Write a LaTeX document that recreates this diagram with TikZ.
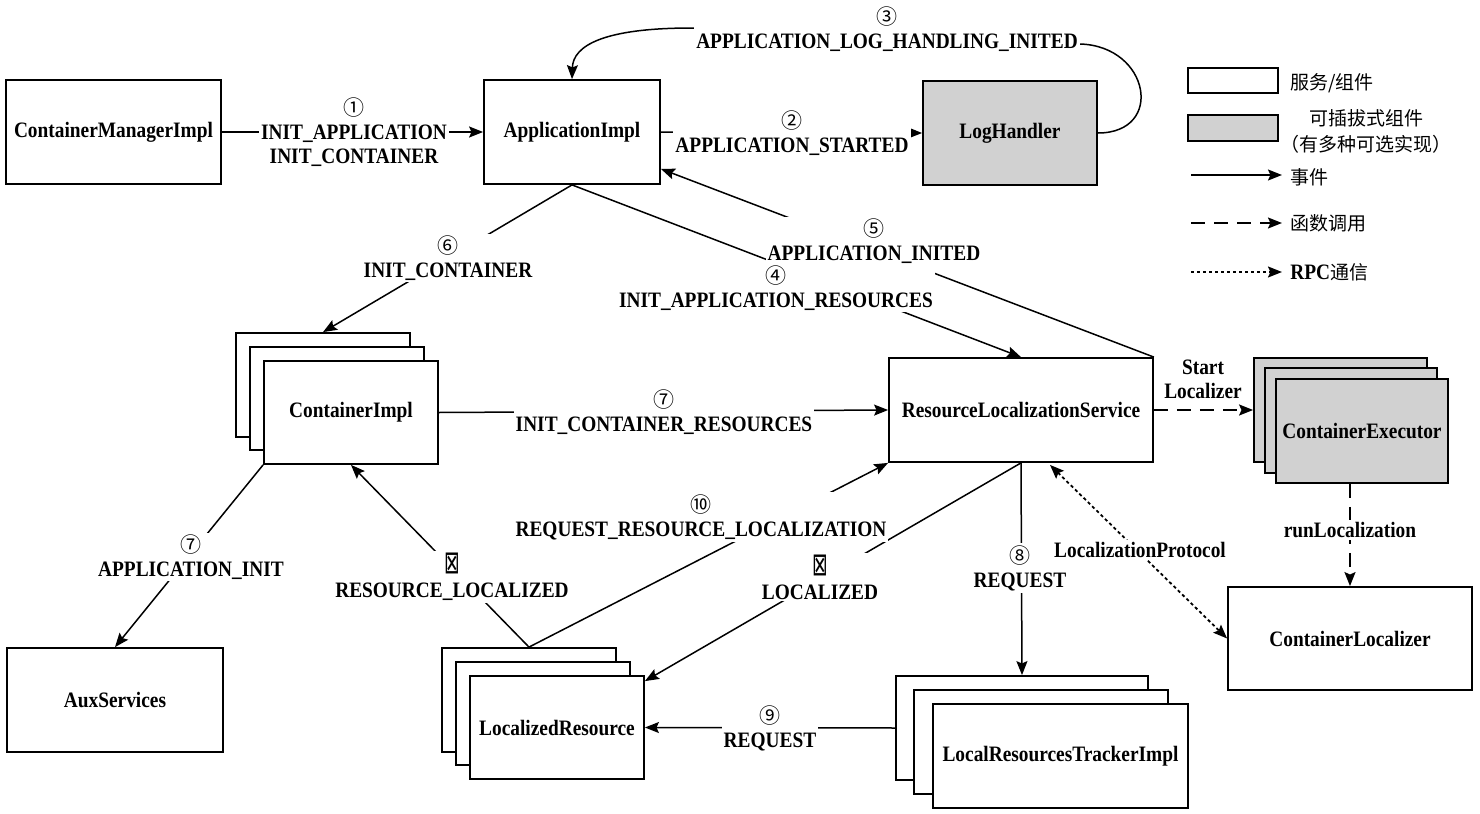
\documentclass[tikz,border=0pt]{standalone}
\usepackage{fontspec}
\usepackage{graphicx}
\setmainfont{Liberation Serif}[FakeStretch=0.88]
\newfontfamily\cjk{Noto Sans CJK SC}
\newfontfamily\dejavu{DejaVu Sans}
\usetikzlibrary{arrows.meta,calc}
\newcommand\lblfont{\fontsize{11}{12}\selectfont\bfseries}
\newcommand\cnum[1]{{\cjk\mdseries\fontsize{10.5}{12}\selectfont #1}}
\newcommand\xbox{{\dejavu\mdseries\scalebox{0.85}[1.45]{⊠}}}
\newcommand\zh[1]{{\cjk\mdseries\fontsize{9.5}{12}\selectfont #1}}
\tikzset{
  >={Stealth[length=7pt,width=5.5pt,inset=1.2pt]},
  box/.style={draw, line width=0.9pt, fill=white, inner sep=0pt, font=\lblfont},
  gbox/.style={box, fill=black!18},
  sz/.style 2 args={minimum width=#1pt, minimum height=#2pt},
  lab/.style={fill=white, inner sep=1pt, align=center, font=\lblfont},
  ev/.style={line width=0.75pt, ->},
  fn/.style={line width=0.9pt, ->, dash pattern=on 7pt off 4.5pt},
  rpc/.style={line width=0.9pt, dash pattern=on 1.6pt off 1.4pt},
}
\begin{document}
\begin{tikzpicture}[x=0.5pt,y=-0.5pt]
\useasboundingbox (0,0) rectangle (1480,814);
% boxes
\node[box, sz={107.5}{52}] (cmi) at (113.5,132) {ContainerManagerImpl};
\node[box, sz={88}{52}] (ai) at (572,132) {ApplicationImpl};
\node[gbox, sz={87}{52}] (lh) at (1010,133) {LogHandler};
\node[box, sz={87}{52}] (ci1) at (323,385) {};
\node[box, sz={87}{51.5}] (ci2) at (337,398.5) {};
\node[box, sz={87}{51.5}] (ci3) at (351,412.5) {ContainerImpl};
\node[box, sz={132}{52}] (rls) at (1021,410) {ResourceLocalizationService};
\node[gbox, sz={86.5}{52}] (ce1) at (1340.5,410) {};
\node[gbox, sz={86}{52.5}] (ce2) at (1351,420.5) {};
\node[gbox, sz={86}{52}] (ce3) at (1362,431) {ContainerExecutor};
\node[box, sz={122}{51.5}] (cl) at (1350,638.5) {ContainerLocalizer};
\node[box, sz={108}{52}] (aux) at (115,700) {AuxServices};
\node[box, sz={87}{52}] (lr1) at (529,700) {};
\node[box, sz={87}{51.5}] (lr2) at (543,713.5) {};
\node[box, sz={87}{51.5}] (lr3) at (557,727.5) {LocalizedResource};
\node[box, sz={126}{52}] (lrt1) at (1022,728) {};
\node[box, sz={127}{52}] (lrt2) at (1041,742) {};
\node[box, sz={127.5}{52}] (lrt3) at (1060.5,756) {LocalResourcesTrackerImpl};

% connectors
\draw[ev] (cmi.east) -- (ai.west);
\draw[ev] (ai.east) -- (lh.west);
\draw[ev] (lh.east) .. controls (1165,133) and (1150,46) .. (1080,44) -- (692,28) .. controls (605,28) and (573,45) .. (ai.north);
\draw[ev] (rls.north east) -- ($(ai.south east)+(0,-16)$);
\draw[ev] (ai.south) -- (rls.north);
\draw[ev] (ai.south) -- (ci1.north);
\draw[ev] (ci3.east) -- (rls.west);
\draw[ev] (ci3.south west) -- (aux.north);
\draw[ev] (lr1.north) -- (ci3.south);
\draw[ev] (lr1.north) -- (rls.south west);
\draw[ev] (rls.south) -- ($(lr3.north east)+(0,6)$);
\draw[ev] (rls.south) -- (lrt1.north);
\draw[ev] (lrt1.west) -- (lr3.east);
\draw[fn] (rls.east) -- (ce1.west);
\draw[fn] (cl.north |- ce3.south) -- (cl.north);
\draw[rpc, <->] ($(rls.south)+(29,2)$) -- (cl.west);

% labels
\node[lab] (l1) at (354,132) {\cnum{①}\\INIT\_APPLICATION\\INIT\_CONTAINER};
\node[lab] (l2) at (792,133) {\cnum{②}\\APPLICATION\_STARTED};
\node[lab] (l3) at (887,29) {\cnum{③}\\APPLICATION\_LOG\_HANDLING\_INITED};
\node[lab] (l4) at (776,288) {\cnum{④}\\INIT\_APPLICATION\_RESOURCES};
\node[lab] (l5) at (874,241) {\cnum{⑤}\\APPLICATION\_INITED};
\node[lab] (l6) at (448,258) {\cnum{⑥}\\INIT\_CONTAINER};
\node[lab] (l7) at (664,412) {\cnum{⑦}\\INIT\_CONTAINER\_RESOURCES};
\node[lab] (l7b) at (191,557) {\cnum{⑦}\\APPLICATION\_INIT};
\node[lab] (lx1) at (452,577) {\xbox\\RESOURCE\_LOCALIZED};
\node[lab] (l10) at (701,517) {\cnum{⑩}\\REQUEST\_RESOURCE\_LOCALIZATION};
\node[lab] (lx2) at (820,577) {\xbox\\LOCALIZED};
\node[lab] (l8) at (1020,568) {\cnum{⑧}\\REQUEST};
\node[lab] (l9) at (770,728) {\cnum{⑨}\\REQUEST};
\node[lab, fill=none] (lsl) at (1203,379) {Start\\Localizer};
\node[lab] (lrun) at (1350,530) {runLocalization};
\node[lab] (lproto) at (1140,550) {LocalizationProtocol};

% legend
\node[box, sz={45}{12.5}] (k1) at (1233,80.5) {};
\node[gbox, sz={45}{13}] (k2) at (1233,128) {};
\node[anchor=west, inner sep=0pt] (k1t) at (1290,83) {\zh{服务/组件}};
\node[align=center, inner sep=0pt] (k2t) at (1366,131) {\zh{可插拔式组件}\\[1pt]\zh{（有多种可选实现）}};
\coordinate (a1) at (1191,175); \coordinate (b1) at (1282,175);
\coordinate (a2) at (1191,223); \coordinate (b2) at (1282,223);
\coordinate (a3) at (1191,272); \coordinate (b3) at (1282,272);
\draw[ev] (a1) -- (b1);
\draw[fn] (a2) -- (b2);
\draw[rpc, ->] (a3) -- (b3);
\node[anchor=west, inner sep=0pt] (k3t) at (1290,177) {\zh{事件}};
\node[anchor=west, inner sep=0pt] (k4t) at (1290,223) {\zh{函数调用}};
\node[anchor=west, inner sep=0pt, font=\lblfont] (k5t) at (1290,272) {RPC\zh{通信}};
\end{tikzpicture}
\end{document}
